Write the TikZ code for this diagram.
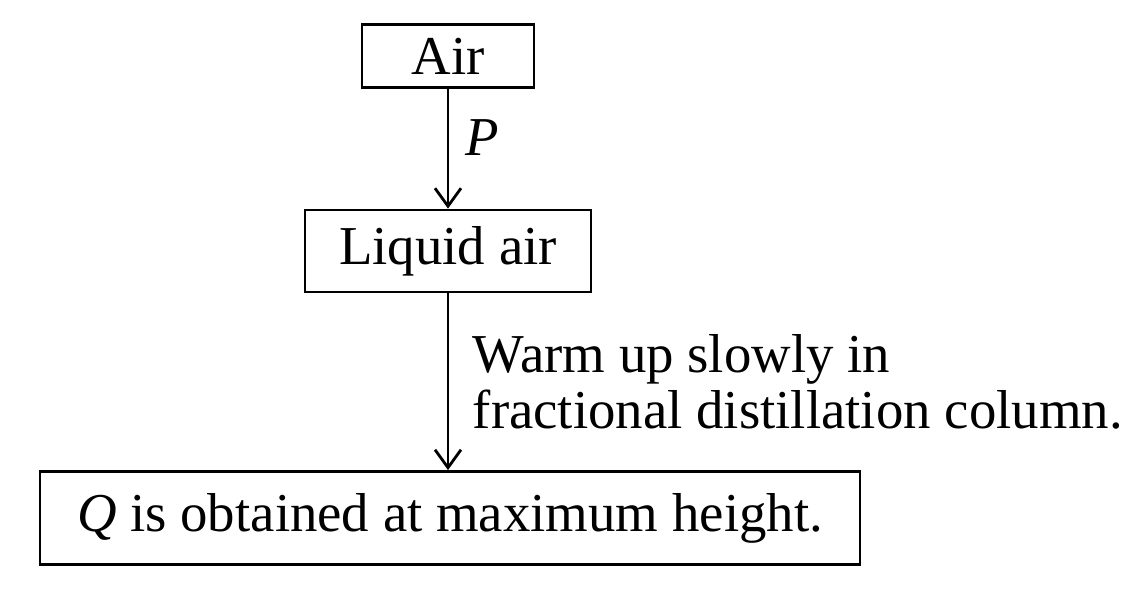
\documentclass[tikz,border=0pt]{standalone}
\usepackage{fontspec}
\setmainfont{Liberation Serif}
\usetikzlibrary{arrows.meta}
\tikzset{
  flowbox/.style={draw, line width=0.7pt, inner sep=0pt, font=\fontsize{13.7}{14}\selectfont},
  flowarrow/.style={line width=0.7pt, -{Straight Barb[length=4.5pt,width=6.5pt]}},
  flowlabel/.style={inner sep=0pt, font=\fontsize{13.7}{14}\selectfont}
}

\begin{document}
\begin{tikzpicture}[x=0.25pt,y=-0.25pt]
\useasboundingbox (0,0) rectangle (1129,590);
\node[flowbox, minimum width=43pt, minimum height=15.75pt] (air) at (448,56) {Air};
\node[flowbox, minimum width=71.5pt, minimum height=20.5pt] (liquid) at (448,251) {Liquid air};
\node[flowbox, minimum width=205pt, minimum height=23.25pt] (gasq) at (450,518) {\textit{Q} is obtained at maximum height.};
\draw[flowarrow] (air.south -| liquid.north) -- (liquid.north);
\draw[flowarrow] (liquid.south) -- (liquid.south |- gasq.north);
\node[flowlabel, anchor=base west] (labp) at (465,155) {\textit{P}};
\node[flowlabel, anchor=base west, align=left] (warm) at (472,428) {Warm up slowly in\\fractional distillation column.};
\end{tikzpicture}
\end{document}
